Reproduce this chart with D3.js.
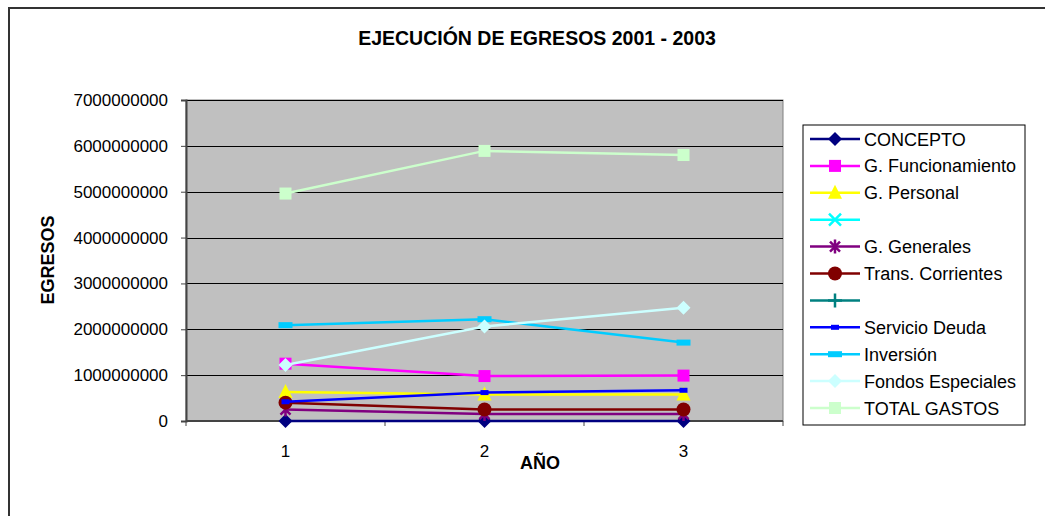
<!DOCTYPE html>
<html>
<head>
  <title>Ejecución de egresos</title>
  <script src="https://d3js.org/d3.v7.min.js"></script>
  <style>
    body { margin: 0; background: #fff; }
    text { font-family: "Liberation Sans", Arial, sans-serif; fill: #000; }
  </style>
</head>
<body>
  <svg width="1045" height="516"></svg>
</body>
<script>

// data
const years = [1, 2, 3];
const seriesNames = ['CONCEPTO', 'G. Funcionamiento', 'G. Personal', '', 'G. Generales',
  'Trans. Corrientes', '', 'Servicio Deuda', 'Inversión', 'Fondos Especiales', 'TOTAL GASTOS'];
const concepto        = [0, 0, 0];
const funcionamiento  = [1250000000, 980000000, 990000000];
const personal        = [630000000, 580000000, 580000000];
const blankA          = [null, null, null];
const generales       = [250000000, 150000000, 150000000];
const transCorrientes = [400000000, 250000000, 250000000];
const blankB          = [null, null, null];
const servicioDeuda   = [420000000, 620000000, 670000000];
const inversion       = [2090000000, 2220000000, 1710000000];
const fondosEsp       = [1220000000, 2060000000, 2470000000];
const totalGastos     = [4960000000, 5890000000, 5800000000];
const yTicks = [0, 1000000000, 2000000000, 3000000000, 4000000000, 5000000000, 6000000000, 7000000000];

const seriesValues = [concepto, funcionamiento, personal, blankA, generales,
  transCorrientes, blankB, servicioDeuda, inversion, fondosEsp, totalGastos];
const colors = ['#000080', '#ff00ff', '#ffff00', '#00ffff', '#800080',
  '#800000', '#008080', '#0000ff', '#00ccff', '#ccffff', '#ccffcc'];
const markers = ['diamond', 'square', 'triangle', 'x', 'star', 'circle', 'plus', 'dash', 'bar', 'diamond', 'square'];

const series = seriesNames.map((name, i) => ({
  name: name, color: colors[i], marker: markers[i], values: seriesValues[i]
}));

let svg = d3.select('svg');

// chart frame (right and bottom edges fall outside the picture)
svg.append('rect')
  .attr('x', 9).attr('y', 8).attr('width', 1060).attr('height', 530)
  .style('fill', '#fff').style('stroke', '#333').style('stroke-width', 2);

const pLeft = 186, pRight = 783, pTop = 100, pBottom = 421;

let x = d3.scaleBand().domain(years).range([pLeft, pRight]);
let y = d3.scaleLinear().domain([0, 7000000000]).range([pBottom, pTop]);

// plot area
svg.append('rect')
  .attr('x', pLeft).attr('y', pTop).attr('width', pRight - pLeft).attr('height', pBottom - pTop)
  .style('fill', '#c0c0c0').style('stroke', '#808080').style('stroke-width', 1);

// gridlines
svg.append('g').selectAll('line')
  .data(yTicks.slice(1))
  .join('line')
  .attr('x1', pLeft).attr('x2', pRight)
  .attr('y1', d => Math.round(y(d)) + 0.5).attr('y2', d => Math.round(y(d)) + 0.5)
  .style('stroke', '#000').style('stroke-width', 1);

// y axis
let yAxis = d3.axisLeft(y).tickValues(yTicks).tickFormat(d => String(d)).tickSize(5).tickPadding(13);
let gy = svg.append('g').attr('transform', 'translate(' + pLeft + ',0)').call(yAxis);
gy.select('.domain').style('stroke', '#444').style('stroke-width', 2);
gy.selectAll('.tick line').style('stroke', '#444');
gy.selectAll('text').style('font-size', '17px').style('font-family', '"Liberation Sans", Arial, sans-serif');

// x axis: ticks between categories
let xAxisLine = svg.append('g');
xAxisLine.append('line')
  .attr('x1', pLeft).attr('x2', pRight).attr('y1', pBottom).attr('y2', pBottom)
  .style('stroke', '#444').style('stroke-width', 2);
let xTickPos = years.map(d => x(d)).concat([pRight]);
xAxisLine.selectAll('.xt')
  .data(xTickPos)
  .join('line')
  .attr('class', 'xt')
  .attr('x1', d => d).attr('x2', d => d)
  .attr('y1', pBottom).attr('y2', pBottom + 5)
  .style('stroke', '#444');
xAxisLine.selectAll('.xl')
  .data(years)
  .join('text')
  .attr('class', 'xl')
  .attr('x', d => x(d) + x.bandwidth() / 2)
  .attr('y', 457)
  .attr('text-anchor', 'middle')
  .style('font-size', '17px')
  .text(d => d);

// titles
svg.append('text')
  .attr('x', 537).attr('y', 45)
  .attr('text-anchor', 'middle')
  .style('font-size', '19.5px').style('font-weight', 'bold')
  .text('EJECUCIÓN DE EGRESOS 2001 - 2003');
svg.append('text')
  .attr('x', 540).attr('y', 469)
  .attr('text-anchor', 'middle')
  .style('font-size', '18px').style('font-weight', 'bold')
  .text('AÑO');
svg.append('text')
  .attr('transform', 'translate(54,260) rotate(-90)')
  .attr('text-anchor', 'middle')
  .style('font-size', '18px').style('font-weight', 'bold')
  .text('EGRESOS');

// marker shapes
let drawMarker = (g, type, color, cx, cy) => {
  let m;
  switch (type) {
    case 'diamond':
      m = g.append('path').attr('d', 'M0,-7L7,0L0,7L-7,0Z').style('fill', color);
      break;
    case 'square':
      m = g.append('rect').attr('x', -6).attr('y', -6).attr('width', 12).attr('height', 12).style('fill', color);
      break;
    case 'triangle':
      m = g.append('path').attr('d', 'M0,-8L7,6L-7,6Z').style('fill', color);
      break;
    case 'circle':
      m = g.append('circle').attr('r', 7).style('fill', color);
      break;
    case 'x':
      m = g.append('path').attr('d', 'M-6,-6L6,6M6,-6L-6,6').style('stroke', color).style('stroke-width', 2.5).style('fill', 'none');
      break;
    case 'star':
      m = g.append('path').attr('d', 'M-5,-5L5,5M5,-5L-5,5M0,-7L0,7').style('stroke', color).style('stroke-width', 2.5).style('fill', 'none');
      break;
    case 'plus':
      m = g.append('path').attr('d', 'M-7,0L7,0M0,-7L0,7').style('stroke', color).style('stroke-width', 2.5).style('fill', 'none');
      break;
    case 'dash':
      m = g.append('rect').attr('x', -4).attr('y', -2.5).attr('width', 8).attr('height', 5).style('fill', color);
      break;
    case 'bar':
      m = g.append('rect').attr('x', -7).attr('y', -3).attr('width', 14).attr('height', 6).style('fill', color);
      break;
  }
  m.attr('transform', 'translate(' + cx + ',' + cy + ')');
};

let line = d3.line()
  .defined(d => d.v !== null)
  .x(d => x(d.year) + x.bandwidth() / 2)
  .y(d => y(d.v));

let plot = svg.append('g');
series.forEach(s => {
  let pts = years.map((yr, i) => ({ year: yr, v: s.values[i] }));
  plot.append('path')
    .datum(pts)
    .attr('d', line)
    .style('fill', 'none')
    .style('stroke', s.color)
    .style('stroke-width', 2.5);
  pts.filter(p => p.v !== null).forEach(p => {
    drawMarker(plot, s.marker, s.color, x(p.year) + x.bandwidth() / 2, y(p.v));
  });
});

// legend
let legend = svg.append('g');
legend.append('rect')
  .attr('x', 803).attr('y', 125).attr('width', 222).attr('height', 300)
  .style('fill', '#fff').style('stroke', '#000').style('stroke-width', 1);
series.forEach((s, i) => {
  let ly = 139 + i * 26.9;
  legend.append('line')
    .attr('x1', 810).attr('x2', 860).attr('y1', ly).attr('y2', ly)
    .style('stroke', s.color).style('stroke-width', 2.5);
  drawMarker(legend, s.marker, s.color, 835, ly);
  legend.append('text')
    .attr('x', 864).attr('y', ly + 6.5)
    .style('font-size', '18px')
    .text(s.name);
});

</script>
</html>
